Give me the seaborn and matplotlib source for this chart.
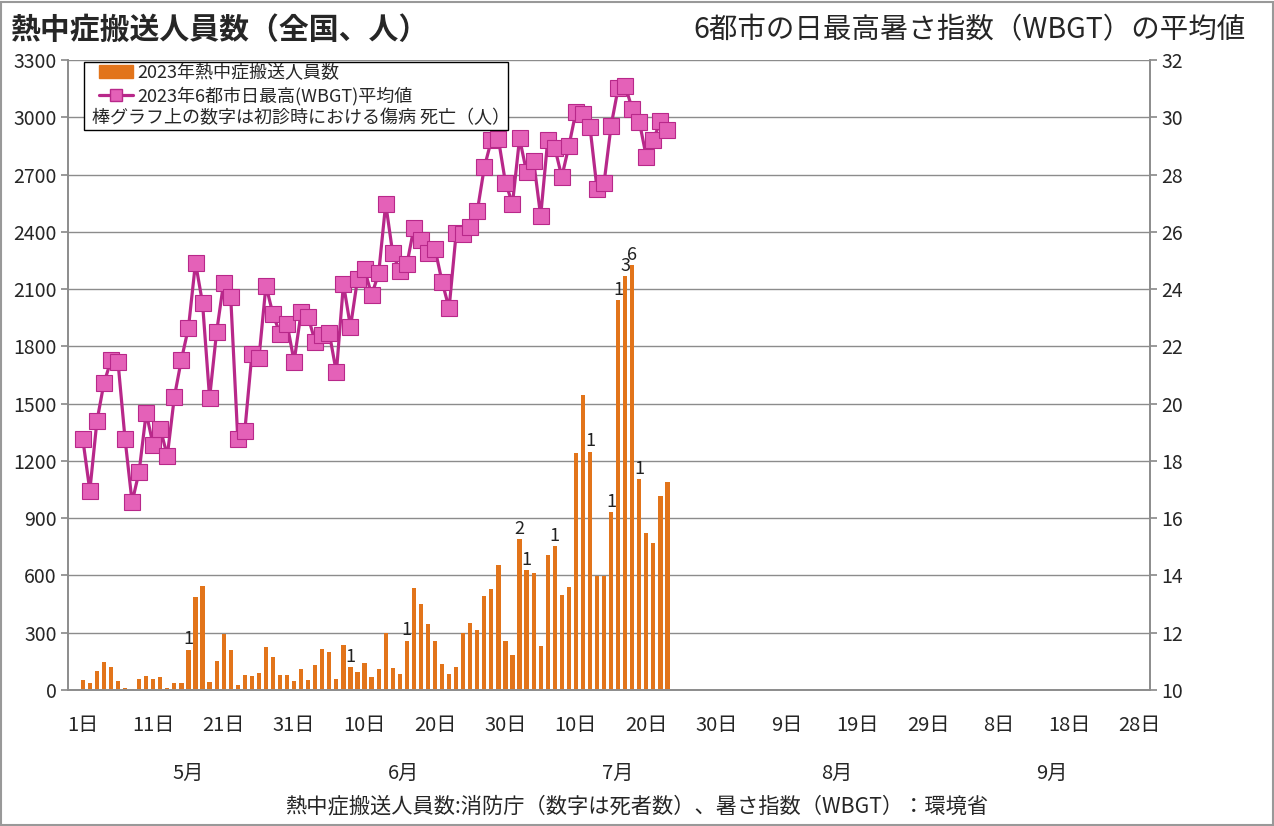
import pandas as pd
import matplotlib.pyplot as plt
import matplotlib.patches as mpatches
from matplotlib.lines import Line2D
import seaborn as sns

sns.set_theme(style="white")
plt.rcParams['font.family'] = ['Noto Sans CJK JP', 'DejaVu Sans']

# daily values 2023/5/1 - 7/23
start = pd.Timestamp("2023-05-01")
end = pd.Timestamp("2023-09-30")
transport = [50, 38, 97, 146, 118, 49, 10, 5, 59, 71,
             59, 70, 10, 35, 38, 210, 487, 544, 43, 150,
             294, 211, 26, 81, 75, 91, 224, 173, 81, 81, 48,
             110, 54, 131, 216, 201, 60, 234, 118, 92, 140,
             66, 109, 301, 115, 82, 259, 536, 449, 346, 259,
             136, 82, 122, 299, 352, 315, 492, 531, 655, 258,
             184, 789, 628, 612, 231, 705, 752, 497, 540, 1242,
             1546, 1249, 598, 598, 930, 2041, 2166, 2224, 1105, 822,
             770, 1014, 1088]
wbgt = [18.76, 16.96, 19.38, 20.71, 21.51, 21.45, 18.76, 16.56, 17.63, 19.68,
        18.54, 19.12, 18.18, 20.24, 21.54, 22.65, 24.92, 23.51, 20.20, 22.51,
        24.23, 23.72, 18.78, 19.05, 21.72, 21.58, 24.12, 23.12, 22.44, 22.78, 21.47,
        23.21, 23.02, 22.15, 22.41, 22.45, 21.09, 24.18, 22.68, 24.35, 24.69,
        23.79, 24.55, 26.98, 25.25, 24.62, 24.86, 26.13, 25.73, 25.25, 25.40,
        24.26, 23.33, 25.95, 25.93, 26.18, 26.72, 28.25, 29.20, 29.24, 27.72,
        26.98, 29.26, 28.09, 28.47, 26.55, 29.20, 28.94, 27.92, 28.99, 30.19,
        30.13, 29.66, 27.50, 27.71, 29.71, 31.02, 31.10, 30.29, 29.85, 28.62,
        29.22, 29.86, 29.55]
death_dates = ["2023-05-16", "2023-06-08", "2023-06-16", "2023-07-02", "2023-07-03",
               "2023-07-07", "2023-07-12", "2023-07-15", "2023-07-16", "2023-07-17",
               "2023-07-18", "2023-07-19"]
death_counts = [1, 1, 1, 2, 1, 1, 1, 1, 1, 3, 6, 1]
months = ["5月", "6月", "7月", "8月", "9月"]

bar_color = "#E2741A"
line_color = "#B8288A"
marker_color = "#E461B8"
grid_color = "#8C8C8C"

df = pd.DataFrame({"date": pd.date_range(start, periods=len(transport))})
df["day"] = (df["date"] - start).dt.days
df["transport"] = transport
df["wbgt"] = wbgt

W, H = 1274, 826
fig = plt.figure(figsize=(W / 100, H / 100), dpi=100)
ax = fig.add_axes([68 / W, 136 / H, 1082 / W, 630 / H])
ax2 = ax.twinx()

sns.barplot(data=df, x="day", y="transport", native_scale=True, color=bar_color,
            saturation=1, width=0.6, errorbar=None, ax=ax, linewidth=0)
sns.lineplot(data=df, x="day", y="wbgt", ax=ax2, color=line_color, lw=2.3,
             marker="s", markersize=11, markerfacecolor=marker_color,
             markeredgecolor=line_color, markeredgewidth=0.8)

# deaths on top of bars
for d, n in zip(death_dates, death_counts):
    i = (pd.Timestamp(d) - start).days
    ax.text(i, transport[i] + 8, str(n), ha="center", va="bottom", fontsize=13, color="#222222")

total_days = (end - start).days
ax.set_xlim(-2.1, total_days - 0.5)
ax.set_ylim(0, 3300)
ax.set_yticks(range(0, 3301, 300))
ax2.set_ylim(10, 32)
ax2.set_yticks(range(10, 33, 2))

ticks = list(range(0, total_days + 1, 5))
labels = []
for t in ticks:
    day = start + pd.Timedelta(days=t)
    labels.append(f"{day.day}日" if t % 10 == 0 else "")
ax.set_xticks(ticks)
ax.set_xticklabels(labels, fontsize=14.5)
ax.set_xlabel("")
ax.set_ylabel("")
ax2.set_ylabel("")
ax.tick_params(axis="x", direction="inout", length=12, color=grid_color, pad=12)
ax.tick_params(axis="y", direction="out", length=5, color=grid_color, labelsize=14, pad=3)
ax2.tick_params(axis="y", direction="out", length=5, color=grid_color, labelsize=14, pad=3)

ax.yaxis.grid(True, color=grid_color, lw=1)
ax.xaxis.grid(False)
ax2.grid(False)
for a in (ax, ax2):
    a.spines["top"].set_visible(False)
    for s in ("left", "right", "bottom"):
        a.spines[s].set_color(grid_color)
        a.spines[s].set_linewidth(1.2)

# month labels under the day labels
for k, m in enumerate(months):
    m0 = pd.Timestamp(2023, 5 + k, 1)
    m1 = m0 + pd.offsets.MonthEnd(0)
    mid = ((m0 - start).days + (m1 - start).days) / 2
    ax.text(mid, -0.132, m, transform=ax.get_xaxis_transform(), ha="center",
            va="center", fontsize=14.5)

# legend box
box = mpatches.Rectangle((84 / W, 1 - 130 / H), 424 / W, 68 / H, transform=fig.transFigure,
                         facecolor="white", edgecolor="black", lw=1, zorder=5)
fig.patches.append(box)
handles = [mpatches.Patch(color=bar_color),
           Line2D([], [], color=line_color, lw=2.3, marker="s", markersize=8,
                  markerfacecolor=marker_color, markeredgecolor=line_color)]
leg = fig.legend(handles, ["2023年熱中症搬送人員数", "2023年6都市日最高(WBGT)平均値"],
                 loc="upper left", bbox_to_anchor=(99 / W, 1 - 64 / H), frameon=False,
                 fontsize=13, handlelength=1.9, handletextpad=0.2, labelspacing=0.25,
                 borderpad=0, borderaxespad=0)
leg.set_zorder(6)
fig.text(92 / W, 1 - 118 / H, "棒グラフ上の数字は初診時における傷病 死亡（人）",
         fontsize=13, va="center", zorder=7)

fig.text(10 / W, 1 - 30 / H, "熱中症搬送人員数（全国、人）", fontsize=21.5,
         fontweight="bold", va="center")
fig.text(1246 / W, 1 - 30 / H, "6都市の日最高暑さ指数（WBGT）の平均値", fontsize=20.5,
         ha="right", va="center")
fig.text(0.5, 1 - 806 / H, "熱中症搬送人員数:消防庁（数字は死者数）、暑さ指数（WBGT）：環境省",
         fontsize=15.3, ha="center", va="center")

fig.patches.append(mpatches.Rectangle((0.001, 0.001), 0.998, 0.997, transform=fig.transFigure,
                                      fill=False, edgecolor="#999999", lw=1.5))

fig.savefig("out.png", dpi=100)
